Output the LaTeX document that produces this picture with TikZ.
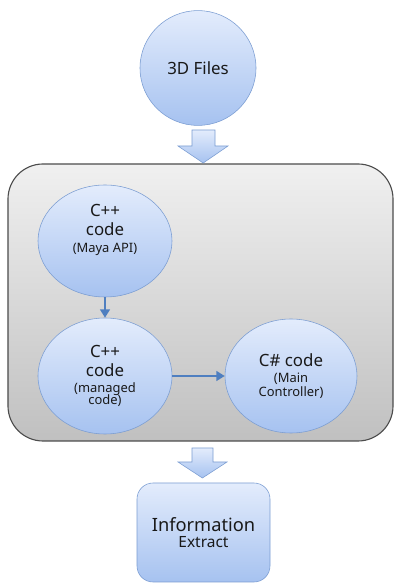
\documentclass[tikz,border=0pt]{standalone}
\usepackage{fontspec}
\setmainfont{Noto Sans}
\usetikzlibrary{shapes.geometric,arrows.meta}

\definecolor{bubtop}{HTML}{E3ECFC}
\definecolor{bubbot}{HTML}{A6C2F0}
\definecolor{bubline}{HTML}{7B9DD2}
\definecolor{flowblue}{HTML}{4F7FC0}
\definecolor{grouptop}{HTML}{F0F0F0}
\definecolor{groupbot}{HTML}{C0C0C0}

% smaller second line inside the bubbles
\newcommand\subnote[1]{{\fontsize{9.2}{10}\selectfont #1}}
% fixed line distance, no extra lineskip for tall lines
\newcommand\tightlines{\lineskiplimit=-20pt\relax}

\begin{document}
\begin{tikzpicture}[
    bubble/.style={ellipse, draw=bubline, top color=bubtop, bottom color=bubbot,
      align=center, inner sep=0pt, text=black!90,
      font=\fontsize{12}{10}\selectfont\tightlines},
    infobox/.style={rectangle, rounded corners=0.4cm, draw=bubline,
      top color=bubtop, bottom color=bubbot, align=center, text=black!90,
      font=\fontsize{13}{10}\selectfont\tightlines},
    groupbox/.style={rectangle, rounded corners=0.875cm, draw=black!70,
      line width=0.8pt, top color=grouptop, bottom color=groupbot},
    flow/.style={draw=flowblue, line width=2pt, -{Triangle[length=6pt,width=7pt]}},
    bigarrow/.style={draw=bubline, top color=bubtop, bottom color=bubbot}
  ]
  \useasboundingbox (0,0) rectangle (9.9,14.6);

  % Container
  \node[groupbox, minimum width=9.625cm, minimum height=6.925cm] (group) at (5.0125,7.0375) {};

  % Input
  \node[bubble, minimum width=2.9cm, minimum height=2.87cm] (files) at (4.95,12.9) {3D Files};

  % Inside the container
  \node[bubble, minimum width=3.35cm, minimum height=2.8cm] (maya) at (2.625,8.575)
    {C++\\[3.5pt] code\\[1.5pt] \subnote{(Maya API)}\\[8pt]};
  \node[bubble, minimum width=3.35cm, minimum height=2.9cm] (managed) at (2.625,5.2)
    {C++\\[3.5pt] code\\[1.5pt] \subnote{(managed}\\[-1pt] \subnote{code)}};
  \node[bubble, minimum width=3.3cm, minimum height=2.85cm] (main) at (7.275,5.2)
    {C\# code\\[1.5pt] \subnote{(Main}\\[-0.5pt] \subnote{Controller)}};

  % Output
  \node[infobox, minimum width=3.325cm, minimum height=2.475cm] (info) at (5.0875,1.2875)
    {Information\\[1pt] {\fontsize{11}{10}\selectfont Extract}};

  \draw[flow] (maya) -- (managed);
  \draw[flow] (managed) -- (main);

  % Block arrows in and out of the container
  \path[bigarrow] (4.8,11.35) -- (5.375,11.35) -- (5.375,10.95) -- (5.7,10.95)
    -- (5.08,10.525) -- (4.45,10.95) -- (4.8,10.95) -- cycle;
  \path[bigarrow] (4.8,3.4) -- (5.325,3.4) -- (5.325,3.05) -- (5.675,3.05)
    -- (5.06,2.65) -- (4.45,3.05) -- (4.8,3.05) -- cycle;
\end{tikzpicture}
\end{document}
